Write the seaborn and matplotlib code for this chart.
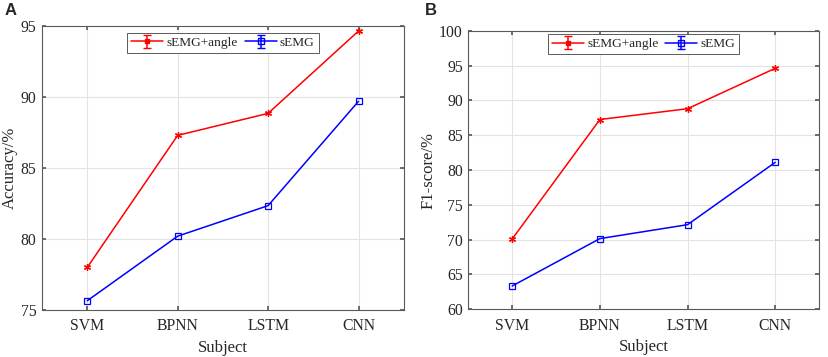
import numpy as np
import pandas as pd
import seaborn as sns
import matplotlib.pyplot as plt

# data
models = ["SVM", "BPNN", "LSTM", "CNN"]
acc_emg_angle = [78.0, 87.3, 88.85, 94.65]
acc_emg = [75.65, 80.2, 82.35, 89.7]
f1_emg_angle = [70.1, 87.25, 88.8, 94.6]
f1_emg = [63.35, 70.15, 72.15, 81.1]

sns.set_theme(style="whitegrid")
plt.rcParams["font.family"] = ["Liberation Serif", "DejaVu Serif"]
plt.rcParams["xtick.direction"] = "in"
plt.rcParams["ytick.direction"] = "in"

fig = plt.figure(figsize=(8.29, 3.57), dpi=100)
axA = fig.add_axes([0.0507, 0.1317, 0.4363, 0.7953])
axB = fig.add_axes([0.565, 0.1336, 0.423, 0.7804])

frame_col = "#5a5a5a"


def panel(ax, with_angle, only_emg, ylim, yticks, ylabel, leg_pad):
    df = pd.DataFrame({"x": np.arange(len(models)),
                       "a": with_angle, "b": only_emg})
    sns.lineplot(data=df, x="x", y="a", ax=ax, color="#ff0000", lw=1.1,
                 marker=(6, 2, 0), markersize=5, markeredgecolor="#ff0000",
                 markeredgewidth=0.9)
    sns.lineplot(data=df, x="x", y="b", ax=ax, color="#0000ff", lw=1.1,
                 marker="s", markersize=5, markerfacecolor="none",
                 markeredgecolor="#0000ff", markeredgewidth=0.9)
    # proxies for errorbar-style legend handles
    h1 = ax.errorbar([np.nan], [np.nan], yerr=[1], color="#ff0000", lw=1.1,
                     marker="s", markersize=3, capsize=3,
                     label="sEMG+angle")
    h2 = ax.errorbar([np.nan], [np.nan], yerr=[1], color="#0000ff", lw=1.1,
                     marker="s", markersize=4, markerfacecolor="none",
                     capsize=3, label="sEMG")
    ax.legend(handles=[h1, h2], loc="upper center", ncol=2, frameon=True,
              fancybox=False, edgecolor=frame_col, framealpha=1,
              fontsize=9.6, handlelength=2.4, handletextpad=0.25,
              columnspacing=0.5, borderpad=0.3, borderaxespad=leg_pad,
              bbox_to_anchor=(0.5, 1.0))
    ax.get_legend().get_frame().set_linewidth(0.7)
    ax.set_xlim(-0.5, 3.5)
    ax.set_ylim(*ylim)
    ax.set_xticks(np.arange(len(models)))
    ax.set_xticklabels(models)
    ax.set_yticks(yticks)
    ax.tick_params(axis="both", labelsize=11.3, length=3, color=frame_col,
                   top=True, right=True, bottom=True, left=True)
    ax.tick_params(axis="x", pad=6)
    ax.tick_params(axis="y", pad=4)
    ax.grid(True, color="#e3e3e3", lw=0.8)
    for s in ax.spines.values():
        s.set_color(frame_col)
        s.set_linewidth(0.8)
    ax.set_xlabel("Subject", fontsize=12, labelpad=4)
    ax.set_ylabel(ylabel, fontsize=12, labelpad=2)


panel(axA, acc_emg_angle, acc_emg, (75, 95), [75, 80, 85, 90, 95],
      "Accuracy/%", 0.5)
panel(axB, f1_emg_angle, f1_emg, (60, 100), list(range(60, 101, 5)),
      "F1-score/%", 0.25)

fig.text(0.006, 0.958, "A", fontsize=12, fontweight="bold",
         family="Liberation Sans")
fig.text(0.512, 0.958, "B", fontsize=12, fontweight="bold",
         family="Liberation Sans")

fig.savefig("out.png", dpi=100)
